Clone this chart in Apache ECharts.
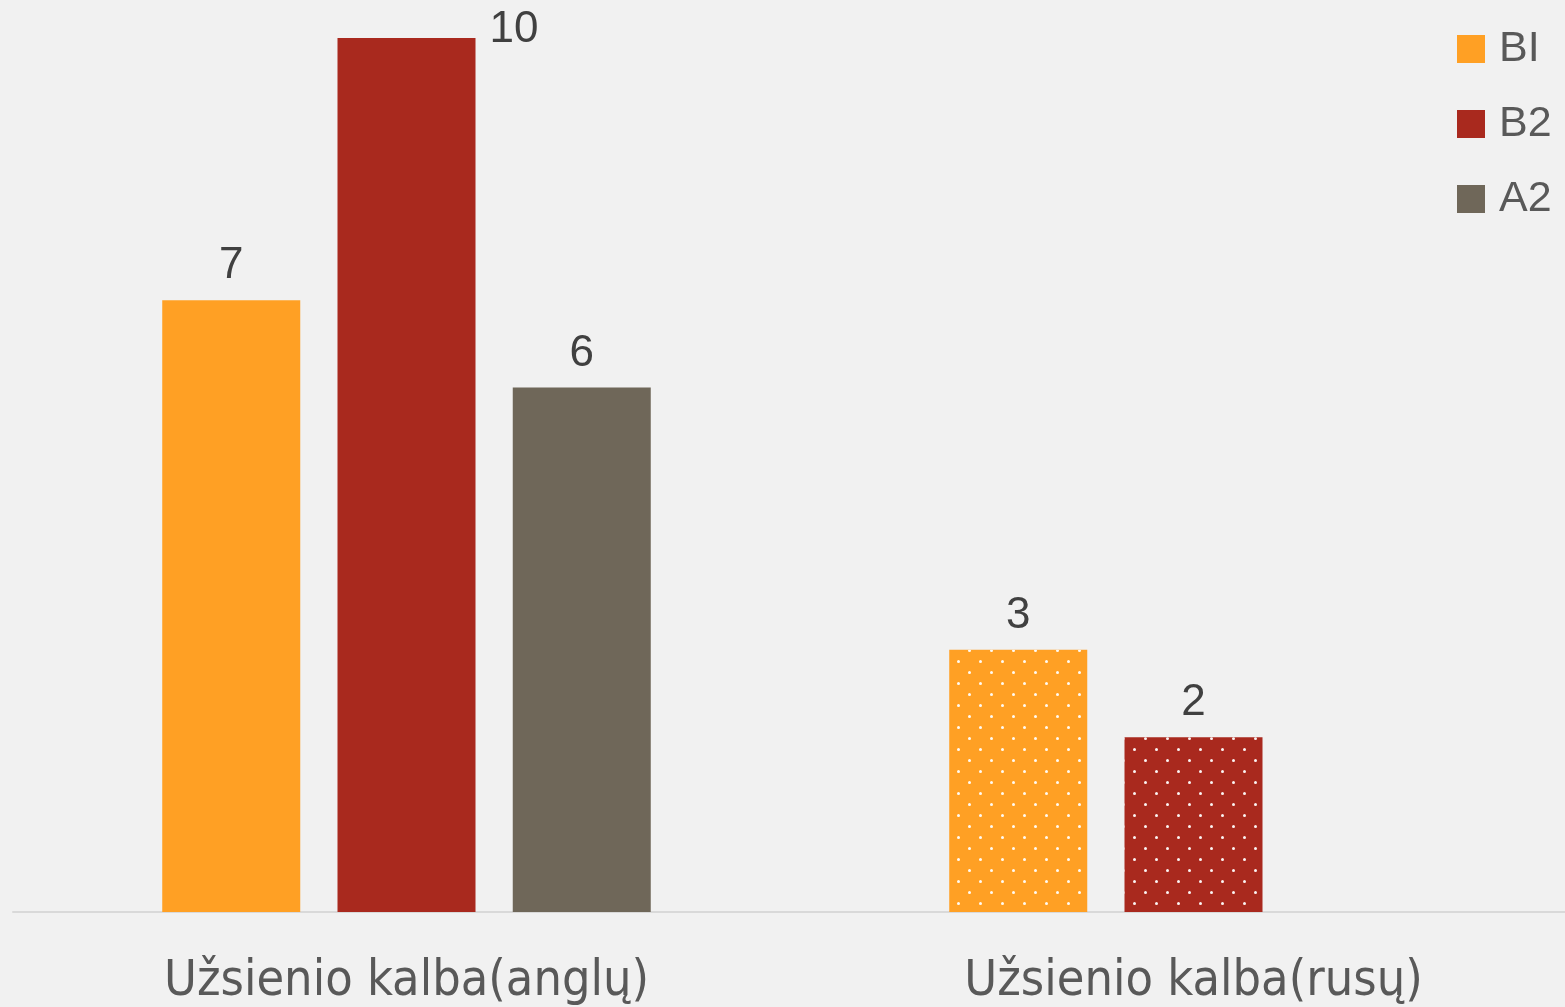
<!DOCTYPE html>
<html>
<head>
<meta charset="utf-8">
<script src="https://cdn.jsdelivr.net/npm/echarts@6/dist/echarts.min.js"></script>
<style>
  html, body { margin: 0; padding: 0; background: #f1f1f1; overflow: hidden; }
  /* wider than the window: the right end of the plot runs past the edge */
  #main { width: 1600px; height: 1007px; }
</style>
</head>
<body>
<div id="main"></div>
<script>
var categories = ['Užsienio kalba(anglų)', 'Užsienio kalba(rusų)'];
var seriesNames = ['BI', 'B2', 'A2'];
var valuesB1 = [7, 3];
var valuesB2 = [10, 2];
var valuesA2 = [6, null];
var colors = ['#FFA024', '#A9291E', '#6F6759'];

// dotted fill for the second category
var dots = {
  symbol: 'circle',
  symbolSize: 1,
  color: 'rgba(255,255,255,0.95)',
  dashArrayX: [[3, 18.7], [0, 10.85, 3, 7.85]],
  dashArrayY: [3, 7.7]
};

var labelStyle = {
  show: true,
  position: 'top',
  distance: 12,
  fontSize: 44,
  color: '#404040',
  fontFamily: 'Liberation Sans'
};

function makeData(values) {
  return values.map(function (v, i) {
    if (v === null) return '-';
    var item = { value: v };
    if (i === 1) item.itemStyle = { decal: dots };
    return item;
  });
}

var b2Data = makeData(valuesB2);
// the tallest label sits beside the bar top
b2Data[0].label = { position: [152, -30] };

var series = [
  { name: seriesNames[0], data: makeData(valuesB1) },
  { name: seriesNames[1], data: b2Data },
  { name: seriesNames[2], data: makeData(valuesA2) }
].map(function (s, i) {
  return {
    name: s.name,
    type: 'bar',
    data: s.data,
    barWidth: 138,
    barGap: '27%',
    itemStyle: { color: colors[i] },
    label: labelStyle,
    emphasis: { disabled: true }
  };
});

var option = {
  backgroundColor: '#f1f1f1',
  animation: false,
  color: colors,
  legend: {
    orient: 'vertical',
    left: 1457,
    top: 24,
    padding: 0,
    icon: 'rect',
    itemWidth: 28,
    itemHeight: 28,
    itemGap: 25,
    textStyle: {
      fontSize: 43,
      lineHeight: 50,
      color: '#595959',
      fontFamily: 'Liberation Sans',
      padding: [0, 0, 0, 9]
    },
    data: seriesNames
  },
  grid: {
    left: 13,
    width: 1574,
    top: 38,
    height: 875,
    containLabel: false
  },
  xAxis: {
    type: 'category',
    data: categories,
    axisLine: { lineStyle: { color: '#d9d9d9', width: 2 } },
    axisTick: { show: false },
    axisLabel: {
      fontSize: 50,
      color: '#595959',
      margin: 45,
      fontFamily: 'DejaVu Sans Condensed, Roboto, sans-serif'
    }
  },
  yAxis: {
    type: 'value',
    min: 0,
    max: 10,
    show: false,
    splitLine: { show: false }
  },
  series: series
};

var chart = echarts.init(document.getElementById('main'));
chart.setOption(option);
</script>
</body>
</html>
